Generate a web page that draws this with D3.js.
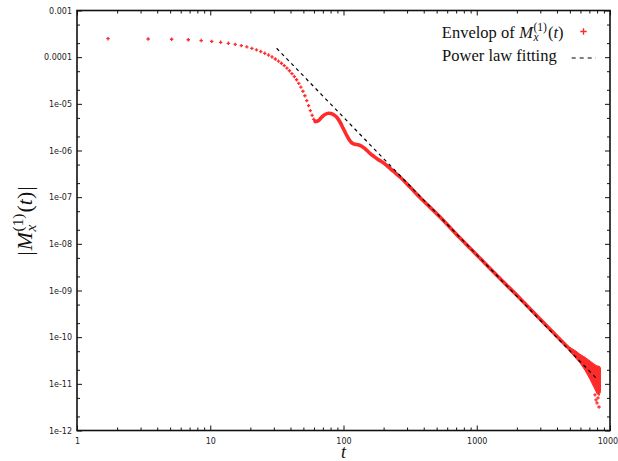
<!DOCTYPE html>
<html>
<head>
<meta charset="utf-8">
<script src="https://cdn.jsdelivr.net/npm/d3@7"></script>
<style>
  body { margin: 0; background: #fff; }
  svg { display: block; }
  .tick text { font-family: "DejaVu Sans", sans-serif; font-size: 8px; fill: #222; }
  .tick line { stroke: #111; stroke-width: 1; }
  .math text { font-family: "Liberation Serif", serif; fill: #111; }
</style>
</head>
<body>
<svg id="chart" width="618" height="461"></svg>
<script>
// envelope samples, early part (individual markers)
var sparseT = [1.71, 3.42, 5.13, 6.84, 8.55, 10.26, 11.97, 13.68, 15.39, 17.1,
  18.81, 20.52, 22.23, 23.94, 25.65, 27.36, 29.07, 30.78, 32.49, 34.2,
  35.91, 37.62, 39.33, 41.04, 42.75, 44.46, 46.17, 47.88, 49.59, 51.3,
  53.01, 54.72, 56.43, 58.14, 59.85, 61.56];
var sparseY = [2.49e-4, 2.45e-4, 2.42e-4, 2.36e-4, 2.27e-4, 2.18e-4, 2.08e-4, 1.98e-4, 1.88e-4, 1.77e-4,
  1.66e-4, 1.54e-4, 1.43e-4, 1.32e-4, 1.21e-4, 1.11e-4, 1.01e-4, 9.14e-5, 8.24e-5, 7.40e-5,
  6.60e-5, 5.83e-5, 5.11e-5, 4.45e-5, 3.84e-5, 3.28e-5, 2.75e-5, 2.28e-5, 1.86e-5, 1.49e-5,
  1.17e-5, 9.16e-6, 7.16e-6, 5.68e-6, 4.66e-6, 4.19e-6];

// envelope, dense part (markers merge into a thick line)
var curveT = [61.4, 64.9, 69.0, 72.6, 77.2, 80.6, 84.9, 89.4, 94.1, 99.1,
  104.4, 110.0, 115.8, 122.0, 128.5, 135.3, 142.5, 150.1, 158.1, 169.4,
  181.5, 197.9, 215.8, 235.2, 265.5, 315.6, 375.1, 530, 748.7, 1058,
  1494, 2112, 2984, 4215, 5010, 5462];
var curveY = [4.19e-6, 4.38e-6, 5.27e-6, 5.91e-6, 6.30e-6, 6.18e-6, 5.76e-6, 5.09e-6, 4.08e-6, 3.04e-6,
  2.26e-6, 1.72e-6, 1.45e-6, 1.36e-6, 1.33e-6, 1.26e-6, 1.14e-6, 1.00e-6, 8.71e-7, 7.44e-7,
  6.42e-7, 5.53e-7, 4.54e-7, 3.64e-7, 2.71e-7, 1.65e-7, 9.84e-8, 3.76e-8, 1.33e-8, 4.91e-9,
  1.81e-9, 6.75e-10, 2.45e-10, 8.93e-11, 5.44e-11, 4.3e-11];

// noisy tail: spread of the envelope
var tailT  = [5010, 5462, 5955, 6493, 7079, 7586, 7989, 8270, 8487];
var tailHi = [6.0e-11, 5.2e-11, 4.3e-11, 3.7e-11, 3.09e-11, 2.66e-11, 2.41e-11, 2.41e-11, 2.19e-11];
var tailLo = [4.9e-11, 3.7e-11, 2.8e-11, 1.95e-11, 1.25e-11, 8.4e-12, 6.2e-12, 5.6e-12, 6.8e-12];
var outT = [7718, 7852, 7989, 8128, 8270];
var outY = [5.8e-12, 4.51e-12, 3.89e-12, 5.0e-12, 3.19e-12];

// power law fit, end points
var fitT = [31.5, 8128];
var fitY = [1.55e-4, 1.21e-11];

var xTicks = [1, 10, 100, 1000, 10000];
var xTickLabels = ["1", "10", "100", "1000", "10000"];
var yTicks = [1e-12, 1e-11, 1e-10, 1e-9, 1e-8, 1e-7, 1e-6, 1e-5, 1e-4, 1e-3];
var yTickLabels = ["1e-12", "1e-11", "1e-10", "1e-09", "1e-08", "1e-07", "1e-06", "1e-05", "0.0001", "0.001"];

var red = "#ff2a2a";
var svg = d3.select("#chart");
svg.append("rect").attr("width", 618).attr("height", 461).attr("fill", "#fff");

var L = 77, R = 610, T = 10.5, B = 430.5;
var x = d3.scaleLog().domain([1, 10000]).range([L, R]);
var y = d3.scaleLog().domain([1e-12, 1e-3]).range([B, T]);

// minor ticks
var xMinor = [], yMinor = [];
xTicks.slice(0, -1).forEach(function (d) { for (var k = 2; k < 10; k++) xMinor.push(d * k); });
yTicks.slice(0, -1).forEach(function (d) { yMinor.push(d * 2, d * 5); });

function axisG(axis, tx, ty) {
  var g = svg.append("g").attr("transform", "translate(" + tx + "," + ty + ")").call(axis);
  g.select(".domain").remove();
  return g;
}
var fmtX = function (d) { return xTickLabels[xTicks.indexOf(d)]; };
var fmtY = function (d) { return yTickLabels[yTicks.indexOf(d)]; };

axisG(d3.axisBottom(x).tickValues(xTicks).tickSize(-5).tickPadding(8).tickFormat(fmtX), 0, B);
axisG(d3.axisBottom(x).tickValues(xMinor).tickSize(-3).tickFormat(""), 0, B);
axisG(d3.axisTop(x).tickValues(xTicks).tickSize(-5).tickFormat(""), 0, T);
axisG(d3.axisTop(x).tickValues(xMinor).tickSize(-3).tickFormat(""), 0, T);
axisG(d3.axisLeft(y).tickValues(yTicks).tickSize(-5).tickPadding(5).tickFormat(fmtY), L, 0);
axisG(d3.axisLeft(y).tickValues(yMinor).tickSize(-3).tickFormat(""), L, 0);
axisG(d3.axisRight(y).tickValues(yTicks).tickSize(-5).tickFormat(""), R, 0);
axisG(d3.axisRight(y).tickValues(yMinor).tickSize(-3).tickFormat(""), R, 0);

// data
var plot = svg.append("g");
var plus = "M-1.7,0H1.7M0,-1.7V1.7";

plot.selectAll(".sp").data(sparseT).enter().append("path")
  .attr("d", plus)
  .attr("transform", function (d, i) { return "translate(" + x(d) + "," + y(sparseY[i]) + ")"; })
  .attr("stroke", red).attr("stroke-width", 1.3).attr("fill", "none");

plot.append("path")
  .datum(curveT)
  .attr("d", d3.line().curve(d3.curveMonotoneX)
    .x(function (d) { return x(d); })
    .y(function (d, i) { return y(curveY[i]); }))
  .attr("fill", "none").attr("stroke", red).attr("stroke-width", 3.6)
  .attr("stroke-linejoin", "round").attr("stroke-linecap", "round");

plot.append("path")
  .datum(tailT)
  .attr("d", d3.area()
    .x(function (d) { return x(d); })
    .y0(function (d, i) { return y(tailLo[i]); })
    .y1(function (d, i) { return y(tailHi[i]); }))
  .attr("fill", red).attr("stroke", red).attr("stroke-width", 1).attr("stroke-linejoin", "round");

plot.selectAll(".out").data(outT).enter().append("path")
  .attr("d", plus)
  .attr("transform", function (d, i) { return "translate(" + x(d) + "," + y(outY[i]) + ")"; })
  .attr("stroke", red).attr("stroke-width", 1.3).attr("fill", "none");

plot.append("path")
  .datum(fitT)
  .attr("d", d3.line().x(function (d) { return x(d); }).y(function (d, i) { return y(fitY[i]); }))
  .attr("fill", "none").attr("stroke", "#000").attr("stroke-width", 1.2)
  .attr("stroke-dasharray", "3.5,3.5");

// frame
svg.append("rect").attr("x", L).attr("y", T).attr("width", R - L).attr("height", B - T)
  .attr("fill", "none").attr("stroke", "#111").attr("stroke-width", 1.6);

// math-ish text: pieces laid out left to right
function mathText(parent, parts, size) {
  var g = parent.append("g").attr("class", "math");
  var cx = 0;
  parts.forEach(function (p) {
    if (p.sup !== undefined) {
      var s = g.append("text").attr("x", cx).attr("y", -size * 0.4)
        .style("font-size", (size * 0.7) + "px").text(p.sup);
      var b = g.append("text").attr("x", cx).attr("y", size * 0.22)
        .style("font-size", (size * 0.7) + "px").style("font-style", "italic").text(p.sub);
      cx += Math.max(s.node().getComputedTextLength(), b.node().getComputedTextLength()) + 1;
    } else {
      var t = g.append("text").attr("x", cx).style("font-size", size + "px")
        .style("font-style", p.i ? "italic" : "normal").text(p.t);
      cx += t.node().getComputedTextLength() + (p.gap || 0);
    }
  });
  return { g: g, width: cx };
}

// legend
var leg1 = mathText(svg, [{ t: "Envelop of", gap: 4.5 }, { t: "M", i: 1, gap: 0.5 }, { sup: "(1)", sub: "x" },
  { t: "(" }, { t: "t", i: 1 }, { t: ")" }], 16.5);
leg1.g.attr("transform", "translate(" + (563.5 - leg1.width) + ",37.5)");
var leg2 = mathText(svg, [{ t: "Power law fitting" }], 16.5);
leg2.g.attr("transform", "translate(" + (556.7 - leg2.width) + ",61)");

svg.append("path").attr("d", "M-3.2,0H3.2M0,-3.2V3.2")
  .attr("transform", "translate(583.5,31.5)")
  .attr("stroke", red).attr("stroke-width", 1.4).attr("fill", "none");
svg.append("line").attr("x1", 571.7).attr("x2", 596).attr("y1", 58).attr("y2", 58)
  .attr("stroke", "#000").attr("stroke-width", 1.2).attr("stroke-dasharray", "4,4");

// axis titles
var yl = mathText(svg, [{ t: "|", gap: 1 }, { t: "M", i: 1, gap: 0.5 }, { sup: "(1)", sub: "x" },
  { t: "(" }, { t: "t", i: 1 }, { t: ")", gap: 1 }, { t: "|" }], 22);
var ylOuter = svg.append("g").attr("transform", "translate(31.5,221) rotate(-90)");
ylOuter.node().appendChild(yl.g.node());
yl.g.attr("transform", "translate(" + (-yl.width / 2) + ",0)");

var xl = mathText(svg, [{ t: "t", i: 1 }], 18);
xl.g.attr("transform", "translate(" + (343.5 - xl.width / 2) + ",458)");
</script>
</body>
</html>
